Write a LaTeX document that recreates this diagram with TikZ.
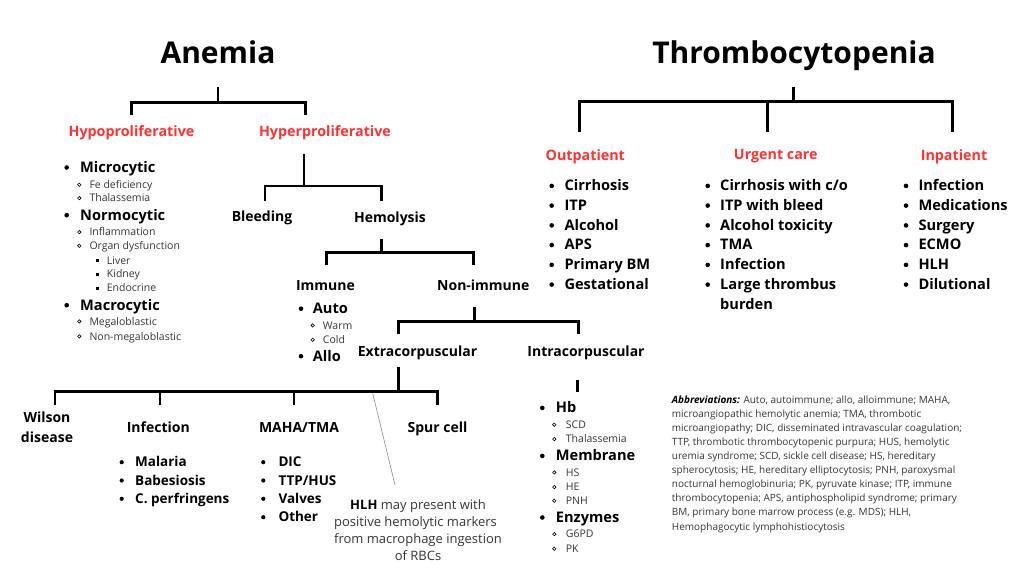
\documentclass[tikz,border=0pt]{standalone}
\usepackage{fontspec}
\setmainfont{Open Sans}
\definecolor{redc}{RGB}{255,49,49}
\definecolor{txtg}{RGB}{55,55,55}
\newcommand\bitm[5]{\fill (#2,#4-4.8) circle[radius=2.3pt]; \node[itm] (#1) at (#3,#4) {#5};}
\newcommand\bitmS[5]{\fill (#2,#4-4.5) circle[radius=2.1pt]; \node[itms] (#1) at (#3,#4) {#5};}
\newcommand\citm[5]{\draw[line width=0.6pt] (#2,#4-3.6) circle[radius=1.7pt]; \node[sub] (#1) at (#3,#4) {#5};}
\newcommand\sitm[5]{\fill (#2-1.6,#4-5) rectangle ++(3.2,3.2); \node[sub] (#1) at (#3,#4) {#5};}
\begin{document}
\begin{tikzpicture}[x=1pt,y=-1pt,
  ttl/.style={font=\fontsize{30}{36}\selectfont\bfseries, anchor=base, inner sep=0pt},
  redl/.style={font=\fontsize{14.3}{17}\selectfont\bfseries, text=redc, anchor=base, inner sep=0pt},
  lbl/.style={font=\fontsize{14}{17}\selectfont\bfseries, anchor=base, inner sep=0pt},
  itm/.style={font=\fontsize{14.6}{18}\selectfont\bfseries, anchor=base west, inner sep=0pt},
  itms/.style={font=\fontsize{13.5}{16}\selectfont\bfseries, anchor=base west, inner sep=0pt},
  sub/.style={font=\fontsize{10.5}{12}\selectfont, text=txtg, anchor=base west, inner sep=0pt},
  hlh/.style={font=\fontsize{13}{16}\selectfont, text=txtg, anchor=base, inner sep=0pt},
  abbr/.style={font=\fontsize{10}{12}\selectfont, text=txtg, anchor=base west, inner sep=0pt},
  brk/.style={line width=2.5pt},
  thin/.style={line width=0.6pt, draw=black!45}]
\useasboundingbox[fill=white] (0,0) rectangle (1024,576);

% ---------- Anemia ----------
\node[ttl] (anemia) at (218,63) {Anemia};
\node[redl] (hypo) at (131.5,136.7) {Hypoproliferative};
\node[redl] (hyper) at (325,136.7) {Hyperproliferative};
\coordinate (anS) at (218,87);
\coordinate (hypoT) at (131.7,115);
\coordinate (hyperT) at (305.7,115);
\draw[brk] (anS) -- (218,102.7);
\draw[brk] (hypoT) -- ++(0,-12.3) -| (hyperT);

\bitm{micro}{66.7}{80}{172.3}{Microcytic}
\citm{fe}{79.3}{89.3}{188.3}{Fe deficiency}
\citm{thal1}{79.3}{89.3}{201.7}{Thalassemia}
\bitm{normo}{66.7}{80}{220}{Normocytic}
\citm{infl}{79.3}{89.3}{235.7}{Inflammation}
\citm{organ}{79.3}{89.3}{249.3}{Organ dysfunction}
\sitm{liver}{97.7}{106.7}{264}{Liver}
\sitm{kidney}{97.7}{106.7}{277.5}{Kidney}
\sitm{endo}{97.7}{106.7}{291.7}{Endocrine}
\bitm{macro}{66.7}{80}{310}{Macrocytic}
\citm{mega}{79.3}{89.3}{325}{Megaloblastic}
\citm{nonmega}{79.3}{89.3}{340}{Non-megaloblastic}

% hyper branch
\node[lbl] (bleed) at (262,221.7) {Bleeding};
\node[lbl] (hemo) at (390,222.3) {Hemolysis};
\coordinate (hyS) at (304,154);
\coordinate (bleedT) at (265,200.7);
\coordinate (hemoT) at (381.7,200.7);
\draw[brk] (hyS) -- (304,186);
\draw[brk] (bleedT) -- ++(0,-14.7) -| (hemoT);

\node[lbl] (immune) at (325.5,290) {Immune};
\node[lbl] (nonimm) at (483.3,290) {Non-immune};
\coordinate (heS) at (381.7,239);
\coordinate (immT) at (326.7,265);
\coordinate (nonT) at (473.3,265);
\draw[brk] (heS) -- (381.7,252.7);
\draw[brk] (immT) -- ++(0,-12.3) -| (nonT);

\bitm{auto}{301}{312.7}{313.5}{Auto}
\citm{warm}{312.7}{322.7}{329}{Warm}
\citm{cold}{312.7}{322.7}{343.3}{Cold}
\bitm{allo}{301}{312.7}{361}{Allo}

\node[lbl] (extra) at (417.5,356.7) {Extracorpuscular};
\node[lbl] (intra) at (586,356.7) {Intracorpuscular};
\coordinate (niS) at (474.3,307);
\coordinate (extraT) at (398.3,334.3);
\coordinate (intraT) at (578.3,334.3);
\draw[brk] (niS) -- (474.3,321.7);
\draw[brk] (extraT) -- ++(0,-12.6) -| (intraT);

% extracorpuscular branch
\coordinate (exS) at (398.3,366.7);
\coordinate (wilT) at (55,405);
\coordinate (infT) at (160,405);
\coordinate (mahaT) at (294,405);
\coordinate (spurT) at (437.7,405);
\draw[brk] (exS) -- (398.3,391.7);
\draw[brk] (wilT) -- ++(0,-13.3) -| (spurT);
\draw[brk] (infT) -- ++(0,-13.3);
\draw[brk] (mahaT) -- ++(0,-13.3);

\node[lbl] (wilson1) at (47,422.7) {Wilson};
\node[lbl] (wilson2) at (47,442.3) {disease};
\node[lbl] (infection) at (158.3,432.7) {Infection};
\node[lbl] (maha) at (299,432.7) {MAHA/TMA};
\node[lbl] (spur) at (437.5,432.7) {Spur cell};

\bitmS{malaria}{121.7}{135}{466.7}{Malaria}
\bitmS{babes}{121.7}{135}{485}{Babesiosis}
\bitmS{cperf}{121.7}{135}{503.3}{C. perfringens}
\bitmS{dic}{263.3}{278.3}{466.7}{DIC}
\bitmS{ttp}{263.3}{278.3}{485}{TTP/HUS}
\bitmS{valves}{263.3}{278.3}{503.3}{Valves}
\bitmS{other}{263.3}{278.3}{521.7}{Other}

\coordinate (hlhA) at (372.7,393.3);
\coordinate (hlhB) at (395,485);
\draw[thin] (hlhA) -- (hlhB);
\node[hlh] (hlh1) at (418,509.3) {\textcolor{black}{\bfseries HLH} may present with};
\node[hlh] (hlh2) at (415.5,526.4) {positive hemolytic markers};
\node[hlh] (hlh3) at (418,543.3) {from macrophage ingestion};
\node[hlh] (hlh4) at (418,560) {of RBCs};

% intracorpuscular branch
\coordinate (inS) at (577.5,380);
\coordinate (inE) at (577.5,392.3);
\draw[brk] (inS) -- (inE);
\bitm{hb}{542.3}{555.7}{412.7}{Hb}
\citm{scd}{554.3}{565.7}{428.3}{SCD}
\citm{thal2}{554.3}{565.7}{442.7}{Thalassemia}
\bitm{memb}{542.3}{555.7}{460.7}{Membrane}
\citm{hs}{554.3}{565.7}{476}{HS}
\citm{he}{554.3}{565.7}{490.7}{HE}
\citm{pnh}{554.3}{565.7}{504.3}{PNH}
\bitm{enz}{542.3}{555.7}{522.3}{Enzymes}
\citm{g6pd}{554.3}{565.7}{537.7}{G6PD}
\citm{pk}{554.3}{565.7}{552.3}{PK}

% ---------- Thrombocytopenia ----------
\node[ttl] (thrombo) at (794,63) {Thrombocytopenia};
\coordinate (thS) at (793.3,87.3);
\coordinate (outT) at (579.3,131.7);
\coordinate (urgT) at (767.3,131.7);
\coordinate (inpT) at (952.7,131.7);
\draw[brk] (thS) -- (793.3,101.7);
\draw[brk] (outT) -- ++(0,-30) -| (inpT);
\draw[brk] (urgT) -- ++(0,-30);

\node[redl] (outp) at (585.3,160) {Outpatient};
\node[redl] (urg) at (775.8,159) {Urgent care};
\node[redl] (inp) at (954,160) {Inpatient};

\bitm{o1}{551.7}{564.3}{190.7}{Cirrhosis}
\bitm{o2}{551.7}{564.3}{210.4}{ITP}
\bitm{o3}{551.7}{564.3}{230.2}{Alcohol}
\bitm{o4}{551.7}{564.3}{249.9}{APS}
\bitm{o5}{551.7}{564.3}{269.7}{Primary BM}
\bitm{o6}{551.7}{564.3}{289.4}{Gestational}

\bitm{u1}{707.7}{720}{190.7}{Cirrhosis with c/o}
\bitm{u2}{707.7}{720}{210.4}{ITP with bleed}
\bitm{u3}{707.7}{720}{230.2}{Alcohol toxicity}
\bitm{u4}{707.7}{720}{249.9}{TMA}
\bitm{u5}{707.7}{720}{269.7}{Infection}
\bitm{u6}{707.7}{720}{289.4}{Large thrombus}
\node[itm] (u6b) at (720,309.2) {burden};

\bitm{i1}{906}{918.3}{190.7}{Infection}
\bitm{i2}{906}{918.3}{210.4}{Medications}
\bitm{i3}{906}{918.3}{230.2}{Surgery}
\bitm{i4}{906}{918.3}{249.9}{ECMO}
\bitm{i5}{906}{918.3}{269.7}{HLH}
\bitm{i6}{906}{918.3}{289.4}{Dilutional}

% ---------- Abbreviations ----------
\node[abbr] (ab1) at (671.7,403.3) {\textcolor{black}{\bfseries\itshape Abbreviations:} Auto, autoimmune; allo, alloimmune; MAHA,};
\node[abbr] (ab2) at (671.7,417.4) {microangiopathic hemolytic anemia; TMA, thrombotic};
\node[abbr] (ab3) at (671.7,431.4) {microangiopathy; DIC, disseminated intravascular coagulation;};
\node[abbr] (ab4) at (671.7,445.5) {TTP, thrombotic thrombocytopenic purpura; HUS, hemolytic};
\node[abbr] (ab5) at (671.7,459.6) {uremia syndrome; SCD, sickle cell disease; HS, hereditary};
\node[abbr] (ab6) at (671.7,473.7) {spherocytosis; HE, hereditary elliptocytosis; PNH, paroxysmal};
\node[abbr] (ab7) at (671.7,487.7) {nocturnal hemoglobinuria; PK, pyruvate kinase; ITP, immune};
\node[abbr] (ab8) at (671.7,501.8) {thrombocytopenia; APS, antiphospholipid syndrome; primary};
\node[abbr] (ab9) at (671.7,515.9) {BM, primary bone marrow process (e.g. MDS); HLH,};
\node[abbr] (ab10) at (671.7,530) {Hemophagocytic lymphohistiocytosis};
\end{tikzpicture}
\end{document}
